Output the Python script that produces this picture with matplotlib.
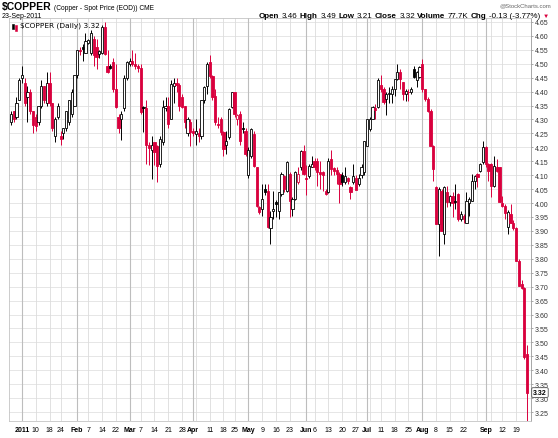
import matplotlib
matplotlib.use("Agg")
import matplotlib.pyplot as plt
from matplotlib.patches import Rectangle
from matplotlib.transforms import IdentityTransform

plt.rcParams['font.family'] = ['Liberation Sans', 'DejaVu Sans']

# daily OHLC, 28-Dec-2010 .. 23-Sep-2011 (trading days)
opens = [4.29, 4.33, 4.31, 4.37, 4.45, 4.43, 4.38, 4.40, 4.33, 4.31,
         4.29, 4.35, 4.42, 4.36, 4.43, 4.36, 4.24, 4.31, 4.24, 4.25,
         4.27, 4.29, 4.32, 4.35, 4.46, 4.55, 4.56, 4.54, 4.575, 4.54,
         4.59, 4.56, 4.535, 4.54, 4.63, 4.49, 4.49, 4.505, 4.41, 4.31,
         4.30, 4.34, 4.45, 4.50, 4.51, 4.50, 4.49, 4.484, 4.345, 4.34,
         4.21, 4.19, 4.218, 4.206, 4.14, 4.22, 4.34, 4.35, 4.30, 4.42,
         4.43, 4.424, 4.38, 4.347, 4.25, 4.29, 4.26, 4.248, 4.25, 4.24,
         4.37, 4.42, 4.505, 4.457, 4.385, 4.285, 4.30, 4.254, 4.21, 4.236,
         4.344, 4.40, 4.30, 4.32, 4.27, 4.26, 4.10, 4.17, 4.248, 4.128,
         3.985, 3.98, 4.05, 4.045, 3.91, 3.97, 4.003, 3.97, 4.033, 4.098,
         4.045, 4.104, 3.98, 4.015, 4.075, 4.128, 4.188, 4.09, 4.098, 4.13,
         4.15, 4.152, 4.11, 4.11, 4.045, 4.04, 4.158, 4.125, 4.12, 4.104,
         4.10, 4.074, 4.09, 4.057, 4.074, 4.09, 4.069, 4.10, 4.11, 4.206,
         4.266, 4.302, 4.34, 4.345, 4.424, 4.41, 4.374, 4.39, 4.391, 4.409,
         4.445, 4.469, 4.433, 4.391, 4.397, 4.397, 4.481, 4.44, 4.451, 4.499,
         4.409, 4.373, 4.331, 4.206, 4.056, 3.924, 4.044, 3.889, 4.038, 4.002,
         4.026, 4.007, 4.032, 3.942, 3.954, 3.93, 4.00, 4.008, 4.08, 4.104,
         4.116, 4.146, 4.20, 4.14, 4.14, 4.062, 4.128, 4.128, 4.00, 3.99,
         3.915, 3.96, 3.93, 3.912, 3.793, 3.709, 3.697, 3.46]
highs = [4.33, 4.33, 4.38, 4.45, 4.49, 4.45, 4.42, 4.41, 4.33, 4.32,
         4.35, 4.44, 4.42, 4.47, 4.47, 4.36, 4.31, 4.36, 4.26, 4.27,
         4.33, 4.37, 4.41, 4.46, 4.55, 4.56, 4.57, 4.61, 4.59, 4.62,
         4.60, 4.59, 4.55, 4.64, 4.65, 4.55, 4.50, 4.52, 4.50, 4.32,
         4.33, 4.46, 4.51, 4.52, 4.55, 4.54, 4.50, 4.50, 4.35, 4.37,
         4.22, 4.24, 4.22, 4.21, 4.24, 4.37, 4.38, 4.38, 4.44, 4.45,
         4.45, 4.43, 4.39, 4.35, 4.31, 4.30, 4.27, 4.30, 4.27, 4.37,
         4.42, 4.505, 4.53, 4.46, 4.41, 4.31, 4.31, 4.26, 4.26, 4.34,
         4.40, 4.40, 4.32, 4.33, 4.29, 4.27, 4.20, 4.27, 4.26, 4.13,
         3.99, 4.07, 4.07, 4.07, 3.97, 4.045, 4.01, 4.04, 4.11, 4.10,
         4.15, 4.11, 4.02, 4.116, 4.13, 4.19, 4.21, 4.135, 4.14, 4.17,
         4.16, 4.16, 4.15, 4.115, 4.05, 4.16, 4.19, 4.13, 4.13, 4.11,
         4.11, 4.13, 4.095, 4.06, 4.14, 4.10, 4.105, 4.14, 4.224, 4.302,
         4.31, 4.35, 4.355, 4.45, 4.46, 4.415, 4.40, 4.415, 4.42, 4.445,
         4.50, 4.48, 4.435, 4.41, 4.41, 4.415, 4.49, 4.475, 4.49, 4.517,
         4.41, 4.38, 4.337, 4.21, 4.06, 4.056, 4.05, 4.06, 4.06, 4.03,
         4.04, 4.07, 4.035, 3.97, 3.96, 4.038, 4.02, 4.104, 4.10, 4.107,
         4.145, 4.224, 4.205, 4.145, 4.145, 4.17, 4.158, 4.13, 4.026, 3.995,
         3.975, 3.996, 3.94, 3.915, 3.80, 3.725, 3.70, 3.49]
lows = [4.28, 4.29, 4.30, 4.37, 4.43, 4.35, 4.29, 4.32, 4.25, 4.26,
        4.28, 4.34, 4.36, 4.35, 4.35, 4.26, 4.22, 4.30, 4.21, 4.23,
        4.26, 4.28, 4.31, 4.35, 4.45, 4.53, 4.51, 4.54, 4.57, 4.53,
        4.49, 4.48, 4.52, 4.535, 4.53, 4.465, 4.48, 4.40, 4.34, 4.25,
        4.225, 4.33, 4.44, 4.49, 4.49, 4.48, 4.47, 4.32, 4.255, 4.14,
        4.135, 4.087, 4.135, 4.074, 4.13, 4.21, 4.33, 4.27, 4.30, 4.36,
        4.40, 4.33, 4.34, 4.27, 4.24, 4.206, 4.24, 4.21, 4.22, 4.23,
        4.36, 4.39, 4.45, 4.37, 4.28, 4.27, 4.245, 4.17, 4.176, 4.23,
        4.34, 4.31, 4.28, 4.21, 4.25, 4.17, 4.09, 4.16, 4.13, 3.985,
        3.96, 3.955, 4.03, 3.91, 3.853, 3.943, 3.95, 3.943, 4.027, 4.04,
        4.04, 3.95, 3.955, 4.01, 4.07, 4.12, 4.10, 4.03, 4.09, 4.13,
        4.12, 4.06, 4.05, 4.045, 4.03, 4.035, 4.10, 4.10, 4.07, 4.00,
        4.06, 4.07, 4.07, 4.015, 4.07, 4.05, 4.06, 4.09, 4.10, 4.206,
        4.26, 4.30, 4.30, 4.34, 4.40, 4.355, 4.315, 4.36, 4.36, 4.385,
        4.44, 4.41, 4.37, 4.367, 4.367, 4.39, 4.45, 4.415, 4.45, 4.40,
        4.367, 4.325, 4.206, 4.08, 3.924, 3.81, 3.90, 3.853, 3.985, 3.99,
        3.95, 3.98, 3.936, 3.935, 3.93, 3.93, 3.955, 4.008, 4.05, 4.056,
        4.11, 4.14, 4.13, 4.08, 4.02, 4.056, 4.11, 4.002, 3.985, 3.942,
        3.888, 3.93, 3.905, 3.793, 3.703, 3.69, 3.44, 3.21]
closes = [4.32, 4.30, 4.36, 4.44, 4.46, 4.36, 4.40, 4.33, 4.28, 4.275,
          4.35, 4.42, 4.37, 4.43, 4.36, 4.27, 4.30, 4.35, 4.23, 4.27,
          4.33, 4.37, 4.40, 4.46, 4.55, 4.545, 4.553, 4.58, 4.585, 4.61,
          4.53, 4.525, 4.547, 4.63, 4.535, 4.47, 4.485, 4.41, 4.345, 4.27,
          4.32, 4.45, 4.505, 4.51, 4.50, 4.49, 4.485, 4.326, 4.34, 4.21,
          4.197, 4.21, 4.182, 4.134, 4.23, 4.344, 4.35, 4.284, 4.427, 4.43,
          4.422, 4.35, 4.345, 4.29, 4.30, 4.254, 4.25, 4.26, 4.24, 4.368,
          4.415, 4.50, 4.457, 4.38, 4.29, 4.28, 4.254, 4.194, 4.224, 4.338,
          4.40, 4.32, 4.316, 4.224, 4.266, 4.176, 4.19, 4.266, 4.134, 3.99,
          3.967, 4.015, 4.04, 3.913, 3.95, 3.98, 3.995, 4.04, 4.104, 4.05,
          4.146, 4.009, 4.015, 4.11, 4.104, 4.188, 4.104, 4.087, 4.134, 4.14,
          4.13, 4.11, 4.105, 4.10, 4.033, 4.152, 4.122, 4.115, 4.105, 4.068,
          4.075, 4.098, 4.08, 4.04, 4.098, 4.048, 4.089, 4.13, 4.224, 4.30,
          4.302, 4.344, 4.335, 4.44, 4.41, 4.362, 4.392, 4.395, 4.409, 4.445,
          4.469, 4.445, 4.391, 4.403, 4.40, 4.409, 4.451, 4.47, 4.487, 4.409,
          4.373, 4.331, 4.206, 4.122, 3.924, 4.05, 3.90, 4.056, 4.002, 4.026,
          4.00, 4.002, 3.942, 3.96, 3.942, 4.008, 4.015, 4.08, 4.098, 4.092,
          4.14, 4.20, 4.14, 4.116, 4.062, 4.134, 4.116, 4.002, 3.99, 3.966,
          3.968, 3.93, 3.912, 3.793, 3.703, 3.697, 3.446, 3.32]

# date axis: bar index of each labelled week / month start
tick_pos = [4, 9, 14, 18, 24, 28, 33, 38, 43, 47, 52, 57, 62, 66, 72, 77, 81,
            86, 91, 96, 101, 107, 110, 115, 120, 125, 129, 134, 139, 144,
            149, 154, 159, 164, 172, 178, 183]
tick_text = ['2011', '10', '18', '24', 'Feb', '7', '14', '22', 'Mar', '7', '14',
             '21', '28', 'Apr', '11', '18', '25', 'May', '9', '16', '23', 'Jun',
             '6', '13', '20', '27', 'Jul', '11', '18', '25', 'Aug', '8', '15',
             '22', 'Sep', '12', '19']
month_pos = [4, 24, 43, 66, 86, 107, 129, 149, 172]
extra_weeks = [67, 130, 169, 174]
price_ticks = [3.25, 3.30, 3.35, 3.40, 3.45, 3.50, 3.55, 3.60, 3.65, 3.70,
               3.75, 3.80, 3.85, 3.90, 3.95, 4.00, 4.05, 4.10, 4.15, 4.20,
               4.25, 4.30, 4.35, 4.40, 4.45, 4.50, 4.55, 4.60, 4.65]

W, H = 558, 439
RED = '#d9003d'
fig = plt.figure(figsize=(W / 100, H / 100), dpi=100)
ax = fig.add_axes([9 / W, (H - 422) / H, (531 - 9) / W, (422 - 19) / H])

for p in price_ticks:
    ax.axhline(p, color='#e2e2e2', lw=0.6, zorder=0)
for g in tick_pos + extra_weeks:
    ax.axvline(g, color='#dcdcdc', lw=0.6, zorder=0)
for g in month_pos:
    ax.axvline(g, color='#bdbdbd', lw=0.8, zorder=0)

bw = 0.8
for i in range(len(closes)):
    o, h, l, c = opens[i], highs[i], lows[i], closes[i]
    prev = closes[i - 1] if i > 0 else o
    col = RED if c < prev else 'black'
    ax.vlines(i, l, h, color=col, lw=0.7, zorder=2)
    bot, top = min(o, c), max(o, c)
    fill = 'white' if c >= o else col
    ax.add_patch(Rectangle((i - bw / 2, bot), bw, max(top - bot, 0.003),
                           facecolor=fill, edgecolor=col, lw=0.6, zorder=3))

ax.set_xlim(-0.7, 188.4)
ax.set_ylim(3.218, 4.664)

ax.yaxis.tick_right()
ax.set_yticks(price_ticks)
ax.set_yticklabels([f'{p:.2f}' for p in price_ticks], fontsize=5, color='#333333')
ax.tick_params(axis='y', length=1.5, width=0.5, pad=1.5, color='#888888')
ax.set_xticks(tick_pos)
ax.set_xticklabels(tick_text, fontsize=5)
for lab, t in zip(ax.get_xticklabels(), tick_text):
    if t == '2011' or not t.isdigit():
        lab.set_fontweight('bold')
ax.tick_params(axis='x', length=0, pad=3.5)
for s in ax.spines.values():
    s.set_color('#c4c4c4')
    s.set_linewidth(0.6)
ax.spines['right'].set_color('#999999')

# last price marker on the axis
ax.text(1.004, closes[-1], f'{closes[-1]:.2f}', transform=ax.get_yaxis_transform(),
        ha='left', va='center', fontsize=5, fontweight='bold', zorder=10, clip_on=False,
        bbox=dict(boxstyle='round,pad=0.2', fc='white', ec='#555555', lw=0.6))

PX = IdentityTransform()
rend = fig.canvas.get_renderer()


def chain(parts, x, y_top, gap=2.0, x_end=None):
    arts = []
    cx = x
    for txt, kw in parts:
        t = fig.text(cx, H - y_top, txt, transform=PX, va='baseline', **kw)
        bb = t.get_window_extent(rend)
        cx = bb.x1 + gap
        arts.append(t)
    if x_end is not None:
        shift = x_end - (cx - gap)
        for t in arts:
            px, py = t.get_position()
            t.set_position((px + shift, py))
    return arts


chain([('$COPPER', dict(fontsize=7.5, fontweight='bold')),
       ('(Copper - Spot Price (EOD)) CME', dict(fontsize=4.8))], 2, 10, gap=2.5)
fig.text(2, H - 18, '23-Sep-2011', transform=PX, va='baseline', fontsize=5)
fig.text(551, H - 7, '@StockCharts.com', transform=PX, va='baseline', ha='right',
         fontsize=4.3, color='#666666')

b = dict(fontsize=5.8, fontweight='bold')
r = dict(fontsize=5.8)
chain([('Open', b), ('3.46', r), ('High', b), ('3.49', r), ('Low', b), ('3.21', r),
       ('Close', b), ('3.32', r), ('Volume', b), ('77.7K', r), ('Chg', b),
       ('-0.13 (-3.77%)', r), ('\u25bc', dict(fontsize=4.5, color=RED))],
      0, 18, gap=2.4, x_end=549)

# legend inside the plot
ax.add_patch(Rectangle((0.006, 0.972), 0.004, 0.014, transform=ax.transAxes,
                       facecolor='black', edgecolor='black', lw=0.4, zorder=6))
ax.add_patch(Rectangle((0.011, 0.968), 0.004, 0.014, transform=ax.transAxes,
                       facecolor=RED, edgecolor=RED, lw=0.4, zorder=6))
fig.text(20, H - 28, '$COPPER (Daily) 3.32', transform=PX, va='baseline',
         fontsize=5.3, family=['DejaVu Sans'], zorder=7)

fig.savefig('out.png', dpi=100, facecolor='white')
